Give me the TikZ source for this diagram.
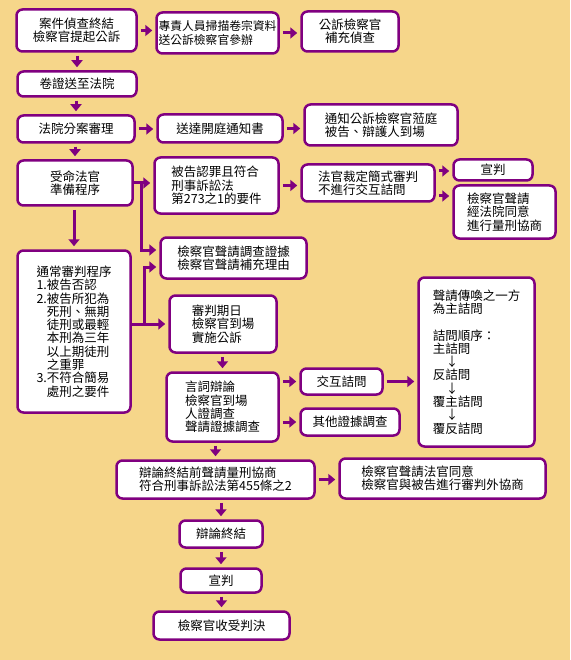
\documentclass[tikz,border=0pt]{standalone}
\usepackage{fontspec}
\setmainfont{Noto Sans CJK TC}
\usepackage{xcolor}
\usetikzlibrary{arrows.meta}

\definecolor{bg}{RGB}{246,214,138}
\definecolor{plum}{RGB}{128,0,128}

\tikzset{
  box/.style={draw=plum, line width=2.5pt, fill=white, rounded corners=6pt,
    inner sep=2pt, align=left, font=\fontsize{12.5}{13.3}\selectfont},
  arr/.style={draw=plum, line width=3pt, -{Triangle[width=11pt,length=7pt]},
    shorten <=3pt, shorten >=3pt},
  branch/.style={arr, shorten <=0pt},
}

\begin{document}
\begin{tikzpicture}[x=1pt, y=-1pt]
    % background
    \fill[bg] (0,0) rectangle (570,660);
    \useasboundingbox (0,0) rectangle (570,660);

    % top row
    \node[box, minimum width=120pt, minimum height=42pt, align=center] (close) at (76.5,30.5) {案件偵查終結\\檢察官提起公訴};
    \node[box, minimum width=122pt, minimum height=41pt, font=\fontsize{11.8}{13.3}\selectfont] (scan) at (217.5,33) {專責人員掃描卷宗資料\\送公訴檢察官參辦};
    \node[box, minimum width=97pt, minimum height=40pt, align=center] (supp) at (350,31.5) {公訴檢察官\\補充偵查};

    % filing and assignment
    \node[box, minimum width=119pt, minimum height=25pt] (file) at (77,84) {卷證送至法院};
    \node[box, minimum width=117pt, minimum height=27pt] (assign) at (76,129) {法院分案審理};
    \node[box, minimum width=125pt, minimum height=28pt] (notice) at (220,128.5) {送達開庭通知書};
    \node[box, minimum width=153pt, minimum height=41pt] (attend) at (381,125) {通知公訴檢察官蒞庭\\被告、辯護人到場};

    % preparatory procedure
    \node[box, minimum width=115pt, minimum height=45pt, align=center] (prep) at (75,183) {受命法官\\準備程序};
    \node[box, minimum width=124pt, minimum height=56pt] (guilty) at (216.5,185.5) {被告認罪且符合\\刑事訴訟法\\第273之1的要件};
    \node[box, minimum width=133pt, minimum height=37pt] (simple) at (368,183) {法官裁定簡式審判\\不進行交互詰問};
    \node[box, minimum width=79pt, minimum height=21pt] (verdict1) at (493,170) {宣判};
    \node[box, minimum width=102pt, minimum height=53pt] (nego1) at (504.5,212) {檢察官聲請\\經法院同意\\進行量刑協商};
    \node[box, minimum width=146pt, minimum height=41pt] (evid) at (233.5,258) {檢察官聲請調查證據\\檢察官聲請補充理由};

    % ordinary trial
    \node[box, minimum width=113pt, minimum height=162pt] (normal) at (74,331.5) {通常審判程序\\1.被告否認\\2.被告所犯為\\\phantom{2.}死刑、無期\\\phantom{2.}徒刑或最輕\\\phantom{2.}本刑為三年\\\phantom{2.}以上期徒刑\\\phantom{2.}之重罪\\3.不符合簡易\\\phantom{3.}處刑之要件};
    \node[box, minimum width=107pt, minimum height=57pt] (date) at (223,324) {審判期日\\檢察官到場\\實施公訴};
    \node[box, minimum width=112pt, minimum height=69pt] (debate) at (222.5,407) {言詞辯論\\檢察官到場\\人證調查\\聲請證據調查};
    \node[box, minimum width=82pt, minimum height=26pt] (cross) at (341.5,381.5) {交互詰問};
    \node[box, minimum width=99pt, minimum height=27pt] (other) at (350,422) {其他證據調查};
    \node[box, minimum width=116pt, minimum height=169pt] (orderq) at (476.5,362) {聲請傳喚之一方\\為主詰問\\[13pt]詰問順序：\\主詰問\\\hspace*{13pt}↓\\反詰問\\\hspace*{13pt}↓\\覆主詰問\\\hspace*{13pt}↓\\覆反詰問};

    % closing
    \node[box, minimum width=198pt, minimum height=38pt] (prebarg) at (215.5,479.5) {辯論終結前聲請量刑協商\\符合刑事訴訟法第455條之2};
    \node[box, minimum width=206pt, minimum height=40pt] (barg) at (442.5,478.5) {檢察官聲請法官同意\\檢察官與被告進行審判外協商};
    \node[box, minimum width=83pt, minimum height=27pt] (closing) at (221,534) {辯論終結};
    \node[box, minimum width=81pt, minimum height=24pt] (verdict) at (221,580.5) {宣判};
    \node[box, minimum width=136pt, minimum height=28pt] (receive) at (221.5,625.5) {檢察官收受判決};

    % downward arrows
    \foreach \a/\b in {close/file, file/assign, assign/prep, prep/normal, date/debate,
                       debate/prebarg, prebarg/closing, closing/verdict, verdict/receive}
        \draw[arr] (\b.north |- \a.south) -- (\b.north);

    % sideways arrows
    \foreach \a/\b in {close/scan, scan/supp, assign/notice, notice/attend,
                       guilty/simple, cross/orderq, prebarg/barg}
        \draw[arr] (\a.east) -- (\a.east -| \b.west);
    \draw[arr] ([yshift=12pt]simple.east) -- ([yshift=12pt]simple.east -| verdict1.west);
    \draw[arr] ([yshift=-13pt]simple.east) -- ([yshift=-13pt]simple.east -| nego1.west);
    \draw[arr] (debate.east |- cross.west) -- (cross.west);
    \draw[arr] (debate.east |- other.west) -- (other.west);

    % branches to the right
    \draw[branch] (prep.east) -- (prep.east -| guilty.west);
    \draw[branch] ([xshift=8pt]prep.east) |- ([yshift=8pt]evid.west);
    \draw[branch] (normal.east |- date.west) -- (date.west);
    \draw[branch] ([xshift=13pt]normal.east |- date.west) |- ([yshift=-9pt]evid.west);
\end{tikzpicture}
\end{document}
